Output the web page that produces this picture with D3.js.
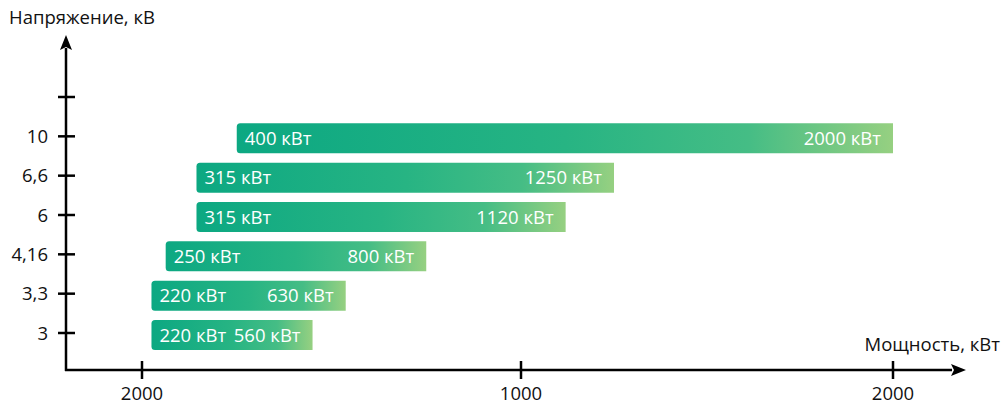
<!DOCTYPE html>
<html><head><meta charset="utf-8">
<script src="https://cdn.jsdelivr.net/npm/d3@7"></script>
<style>body{margin:0;background:#fff}svg{display:block}text{font-family:"Open Sans",sans-serif}</style>
</head><body><svg id="c" width="1003" height="405"></svg>
<script>
const categories = ["3", "3,3", "4,16", "6", "6,6", "10"];
const minPower = [220, 220, 250, 315, 315, 400];
const maxPower = [560, 630, 800, 1120, 1250, 2000];
const xTickValues = [200, 1000, 2000];
const xTickLabels = ["2000", "1000", "2000"];
const yAxisTitle = "Напряжение, кВ";
const xAxisTitle = "Мощность, кВт";
const unit = " кВт";

const svg = d3.select("#c");
const ox = 66, oy = 370;
const x = d3.scaleLinear().domain([200, 1000, 2000]).range([142, 521, 893]);
const y = d3.scalePoint().domain([...categories, ""]).range([333, 97]);

const defs = svg.append("defs");
const g = defs.append("linearGradient").attr("id", "bg").attr("x1", 0).attr("x2", 1).attr("y1", 0).attr("y2", 0);
[[0, "#0ca882"], [0.5, "#27b483"], [0.78, "#45bd85"], [1, "#96d081"]].forEach(s =>
  g.append("stop").attr("offset", s[0]).attr("stop-color", s[1]));

const data = categories.map((c, i) => ({c, lo: minPower[i], hi: maxPower[i]}));
const bh = 30, off = 2;
const bars = svg.append("g").selectAll("g").data(data).join("g");
bars.append("path")
  .attr("fill", "url(#bg)")
  .attr("d", d => {
    const x0 = x(d.lo), x1 = x(d.hi), y0 = y(d.c) + off - bh / 2, r = 3.5;
    return `M${x0 + r},${y0} H${x1} V${y0 + bh} H${x0 + r} Q${x0},${y0 + bh} ${x0},${y0 + bh - r} V${y0 + r} Q${x0},${y0} ${x0 + r},${y0} Z`;
  });
bars.append("text").attr("x", d => x(d.lo) + 8).attr("y", d => y(d.c) + off + 6.5)
  .attr("fill", "#fff").attr("font-size", 18.5).text(d => d.lo + unit);
bars.append("text").attr("x", d => x(d.hi) - 12).attr("y", d => y(d.c) + off + 6.5)
  .attr("text-anchor", "end").attr("fill", "#fff").attr("font-size", 18.5).text(d => d.hi + unit);

// axes
const ax = svg.append("g").attr("stroke", "#000").attr("stroke-width", 2.5);
ax.append("line").attr("x1", ox).attr("y1", oy + 1).attr("x2", ox).attr("y2", 48);
ax.append("line").attr("x1", ox - 1).attr("y1", oy).attr("x2", 952).attr("y2", oy);
svg.append("path").attr("fill", "#000").attr("d", `M${ox},35 L${ox + 6},50 L${ox},47 L${ox - 6},50 Z`);
svg.append("path").attr("fill", "#000").attr("d", `M966,${oy} L951,${oy - 6} L954,${oy} L951,${oy + 6} Z`);

// y ticks
const yt = svg.append("g");
y.domain().forEach(c => {
  yt.append("line").attr("x1", ox - 8).attr("x2", ox + 9).attr("y1", y(c)).attr("y2", y(c))
    .attr("stroke", "#000").attr("stroke-width", 2.5);
  if (c) yt.append("text").attr("x", 48).attr("y", y(c) + 6.5).attr("text-anchor", "end")
    .attr("font-size", 18.5).attr("fill", "#111").text(c);
});
// x ticks
const xt = svg.append("g");
xTickValues.forEach((v, i) => {
  xt.append("line").attr("x1", x(v)).attr("x2", x(v)).attr("y1", oy - 9).attr("y2", oy + 9)
    .attr("stroke", "#000").attr("stroke-width", 2.5);
  xt.append("text").attr("x", x(v)).attr("y", 400).attr("text-anchor", "middle")
    .attr("font-size", 18.5).attr("fill", "#111").text(xTickLabels[i]);
});
svg.append("text").attr("x", 9).attr("y", 24).attr("font-size", 18.5).attr("fill", "#111").text(yAxisTitle);
svg.append("text").attr("x", 1000).attr("y", 351).attr("text-anchor", "end").attr("font-size", 18.5).attr("fill", "#111").text(xAxisTitle);
</script></body></html>
